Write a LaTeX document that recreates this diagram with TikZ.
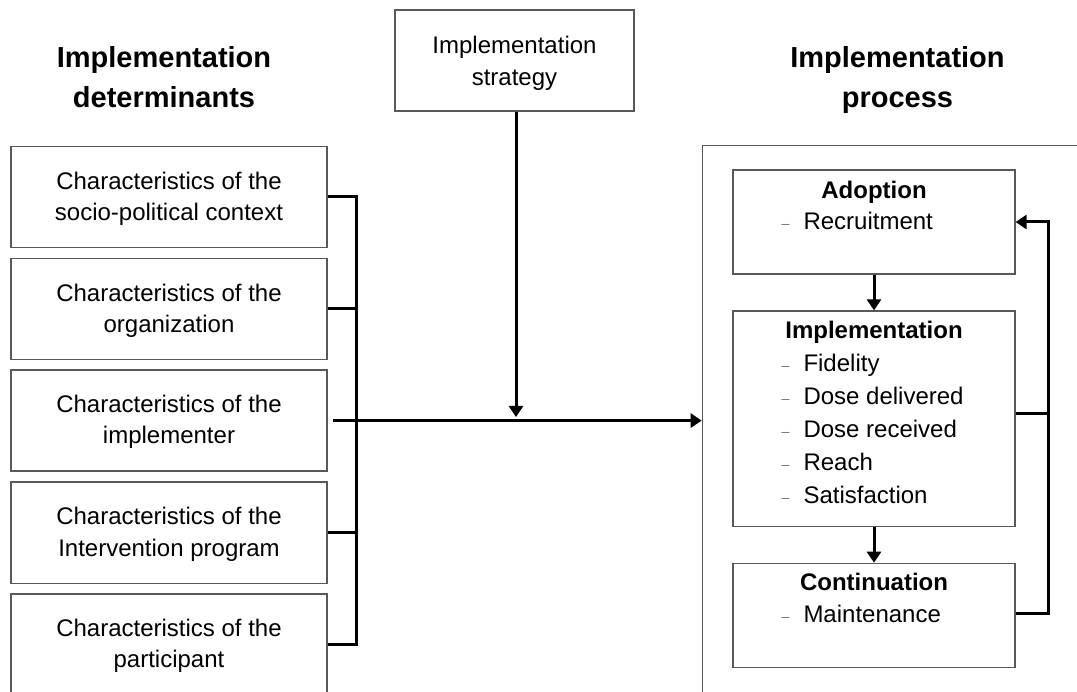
\documentclass[tikz,border=0pt]{standalone}
\usepackage{fontspec}
\setmainfont{Liberation Sans}
\usetikzlibrary{arrows.meta}
\tikzset{
  x=1pt, y=-1pt,
  box/.style={draw=black!65, line width=1.2pt, rectangle, inner sep=0pt},
  detbox/.style={box, minimum width=316pt, minimum height=101pt, anchor=north},
  stratbox/.style={box, minimum width=239pt, minimum height=101pt},
  procbox/.style={box, minimum width=282pt},
  txt/.style={anchor=base, font=\fontsize{24}{28}\selectfont, inner sep=0pt},
  head/.style={anchor=base, font=\fontsize{29}{41}\selectfont\bfseries, inner sep=0pt},
  ttl/.style={anchor=base, font=\fontsize{24}{28}\selectfont\bfseries, inner sep=0pt},
  item/.style={anchor=base west, font=\fontsize{24}{28}\selectfont, inner sep=0pt},
  dsh/.style={anchor=base west, font=\fontsize{14}{14}\selectfont, text=black!55, inner sep=0pt, yshift=1pt},
  conn/.style={line width=3pt, draw=black},
  arr/.style={conn, -{Triangle[length=11pt, width=14pt]}},
}
\begin{document}
\begin{tikzpicture}
\clip (0,0) rectangle (1077,692);
\fill[white] (0,0) rectangle (1077,692);

% headings
\node[head] (hdet1) at (164,67.3) {Implementation};
\node[head] (hdet2) at (164,107.5) {determinants};
\node[head] (hproc1) at (897.5,67.3) {Implementation};
\node[head] (hproc2) at (897.5,107.5) {process};

% determinant boxes
\node[detbox] (b1) at (169,145.7) {};
\node[detbox] (b2) at (169,257.7) {};
\node[detbox] (b3) at (169,369.5) {};
\node[detbox] (b4) at (169,481.5) {};
\node[detbox] (b5) at (169,593.3) {};
\node[txt] (t1a) at ([yshift=-43.5pt]b1.north) {Characteristics of the};
\node[txt] (t1b) at ([yshift=-74.5pt]b1.north) {socio-political context};
\node[txt] (t2a) at ([yshift=-43.5pt]b2.north) {Characteristics of the};
\node[txt] (t2b) at ([yshift=-74.5pt]b2.north) {organization};
\node[txt] (t3a) at ([yshift=-43.5pt]b3.north) {Characteristics of the};
\node[txt] (t3b) at ([yshift=-74.5pt]b3.north) {implementer};
\node[txt] (t4a) at ([yshift=-43.5pt]b4.north) {Characteristics of the};
\node[txt] (t4b) at ([yshift=-74.5pt]b4.north) {Intervention program};
\node[txt] (t5a) at ([yshift=-43.5pt]b5.north) {Characteristics of the};
\node[txt] (t5b) at ([yshift=-74.5pt]b5.north) {participant};

% strategy
\node[stratbox] (strat) at (514.5,60.5) {};
\node[txt] (sa) at (514.5,53.5) {Implementation};
\node[txt] (sb) at (514.5,86) {strategy};

% process outer box
\node[box, minimum width=400pt, minimum height=600pt, anchor=north west] (proc) at (701.7,145) {};

% process boxes
\node[procbox, minimum height=104pt] (adopt) at (874,222) {};
\node[procbox, minimum height=215.7pt] (impl) at (874,418.8) {};
\node[procbox, minimum height=104pt] (cont) at (874,615.3) {};

% texts in process boxes
\node[ttl] (tadopt) at (874,199) {Adoption};
\node[dsh] (d1) at (781.5,230) {–};
\node[item] (i1) at (803.3,230) {Recruitment};

\node[ttl] (timpl) at (874,338.5) {Implementation};
\node[dsh] (d2) at (781.5,371.5) {–};
\node[item] (i2) at (803.3,371.5) {Fidelity};
\node[dsh] (d3) at (781.5,404.5) {–};
\node[item] (i3) at (803.3,404.5) {Dose delivered};
\node[dsh] (d4) at (781.5,437.3) {–};
\node[item] (i4) at (803.3,437.3) {Dose received};
\node[dsh] (d5) at (781.5,470.2) {–};
\node[item] (i5) at (803.3,470.2) {Reach};
\node[dsh] (d6) at (781.5,503.3) {–};
\node[item] (i6) at (803.3,503.3) {Satisfaction};

\node[ttl] (tcont) at (874,590) {Continuation};
\node[dsh] (d7) at (781.5,622.4) {–};
\node[item] (i7) at (803.3,622.4) {Maintenance};

% bus on the left
\coordinate (bus) at (356.7,0);
\draw[conn] (b1.east) -| (bus |- b5.east) -- (b5.east);
\draw[conn] (b2.east) -- (b2.east -| bus);
\draw[conn] (b4.east) -- (b4.east -| bus);

% main arrow
\draw[arr] ([xshift=5pt]b3.east) -- (b3.east -| proc.west);

% strategy arrow
\coordinate (stratend) at (516,417);
\draw[arr] (strat.south -| stratend) -- (stratend);

% process arrows
\draw[arr] (adopt.south) -- (impl.north);
\draw[arr] (impl.south) -- (cont.north);

% feedback
\coordinate (fb) at (1048.3,0);
\draw[arr] ([yshift=2pt]cont.east) -- ([yshift=2pt]cont.east -| fb) |- (adopt.east);
\draw[conn] ([yshift=5pt]impl.east) -- ([yshift=5pt]impl.east -| fb);
\end{tikzpicture}
\end{document}
